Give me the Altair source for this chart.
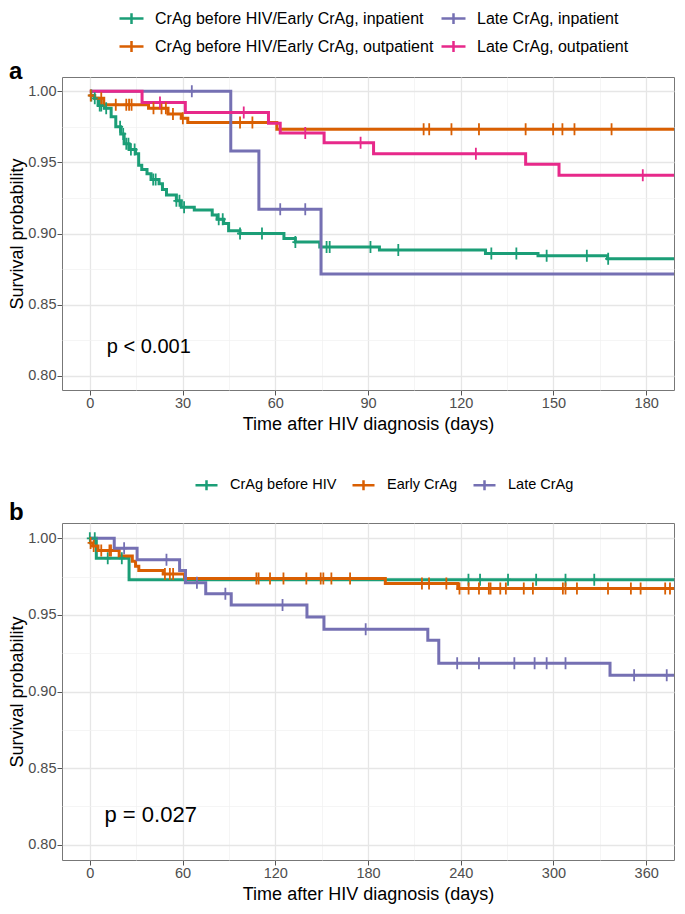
import altair as alt
import pandas as pd

FONT = "Liberation Sans"

# ---------------- Panel a ----------------
A_GROUPS = ["CrAg before HIV/Early CrAg, inpatient",
            "CrAg before HIV/Early CrAg, outpatient",
            "Late CrAg, inpatient",
            "Late CrAg, outpatient"]
A_COLORS = ["#1B9E77", "#D95F02", "#7570B3", "#E7298A"]
A_XMAX = 189

a1_time = [0, 1.5, 2.7, 4.7, 6.9, 8.4, 10.0, 11.1, 12.7, 14.8, 15.8, 16.8, 18.5, 19.8, 22.4, 23.5,
           24.8, 28.0, 29.6, 33.8, 39.6, 41.2, 43.3, 44.9, 48.6, 62.8, 66.5, 74.4, 93.7, 128, 145, 167.5]
a1_surv = [0.997, 0.995, 0.990, 0.988, 0.982, 0.975, 0.970, 0.963, 0.959, 0.956, 0.948, 0.945, 0.942,
           0.938, 0.935, 0.931, 0.927, 0.923, 0.9185, 0.9165, 0.913, 0.910, 0.907, 0.902, 0.900,
           0.8965, 0.894, 0.8905, 0.8884, 0.886, 0.8843, 0.8822]
a1_cens = [0.5, 1.6, 3.2, 3.7, 5.3, 9.8, 10.8, 11.8, 12.5, 13.3, 14.5, 20.5, 21.3, 28.0, 29.0, 30.5,
           41.7, 43.0, 48.6, 55.7, 66.5, 76.6, 77.6, 90.8, 99.8, 129.9, 138.0, 147.8, 160.8, 167.7]

a2_time = [0, 1.6, 4.5, 19.0, 25.3, 29.6, 31.7, 60.5]
a2_surv = [0.997, 0.995, 0.9905, 0.988, 0.984, 0.981, 0.978, 0.9733]
a2_cens = [0.3, 3.7, 8.4, 11.8, 12.7, 13.5, 20.6, 23.2, 24.6, 26.9, 30.1, 48.6, 52.6, 108, 109.8,
           117, 125.9, 141, 149.9, 152.9, 156.8, 168.8]

a3_time = [0, 45.6, 54.7, 74.8]
a3_surv = [1.0, 0.958, 0.917, 0.8715]
a3_cens = [33.0, 61.6, 69.7]

a4_time = [0, 16.9, 30.9, 57.8, 61.6, 75.8, 91.8, 141, 151.8]
a4_surv = [1.0, 0.992, 0.985, 0.9775, 0.9706, 0.9637, 0.956, 0.9486, 0.941]
a4_cens = [22.7, 49.8, 69.7, 87.6, 124.9, 178.9]

a_pval = ["p < 0.001"]
a_pval_x = [5.5]
a_pval_y = [0.816]

# ---------------- Panel b ----------------
B_GROUPS = ["CrAg before HIV", "Early CrAg", "Late CrAg"]
B_COLORS = ["#1B9E77", "#D95F02", "#7570B3"]
B_XMAX = 378

b1_time = [0, 4.2, 25.4]
b1_surv = [1.0, 0.987, 0.973]
b1_cens = [0, 3.2, 11.6, 20.7, 245, 252.5, 270.6, 288.8, 307.8, 326.4]

b2_time = [0, 2.0, 5.3, 19.0, 27.5, 29.6, 31.7, 47.5, 61.3, 191.2, 238.1]
b2_surv = [0.997, 0.995, 0.992, 0.9885, 0.985, 0.9817, 0.979, 0.9767, 0.9737, 0.9705, 0.9672]
b2_cens = [0.5, 2.5, 7.4, 12.7, 13.7, 48.6, 51.8, 53.9, 107.8, 109.2, 116.6, 125.3, 140.1, 149.4,
           151.1, 156.3, 168.4, 214.9, 219.5, 230.7, 239.2, 245.1, 251.8, 258.2, 259.3, 265.6,
           269.2, 280.8, 286.7, 306.1, 307.8, 315.2, 335.3, 350.1, 356.4, 372.3, 375.4]

b3_time = [0, 15.8, 30.6, 58.1, 61.9, 75, 91.5, 140.5, 151.5, 218.7, 225.8, 336.6]
b3_surv = [1.0, 0.9935, 0.986, 0.979, 0.971, 0.9638, 0.9565, 0.9487, 0.9407, 0.9335, 0.9185, 0.9106]
b3_cens = [22.2, 49.6, 69.3, 87.7, 124.7, 178.5, 237.7, 251.8, 274.7, 287.8, 295.6, 307.8, 352.2, 373.3]

b_pval = ["p = 0.027"]
b_pval_x = [9.5]
b_pval_y = [0.815]


def km_rows(group, times, surv, end):
    rows = [{"group": group, "time": t, "surv": s} for t, s in zip(times, surv)]
    rows.append({"group": group, "time": end, "surv": surv[-1]})
    return rows


def cens_rows(group, times, surv, cens):
    out = []
    for c in cens:
        s = surv[0]
        for t, v in zip(times, surv):
            if t <= c:
                s = v
        out.append({"group": group, "time": c, "surv": s})
    return out


a_series = [(A_GROUPS[0], a1_time, a1_surv, a1_cens), (A_GROUPS[1], a2_time, a2_surv, a2_cens),
            (A_GROUPS[2], a3_time, a3_surv, a3_cens), (A_GROUPS[3], a4_time, a4_surv, a4_cens)]
b_series = [(B_GROUPS[0], b1_time, b1_surv, b1_cens), (B_GROUPS[1], b2_time, b2_surv, b2_cens),
            (B_GROUPS[2], b3_time, b3_surv, b3_cens)]

a_lines = pd.DataFrame(sum([km_rows(g, t, s, A_XMAX) for g, t, s, c in a_series], []))
a_cens = pd.DataFrame(sum([cens_rows(g, t, s, c) for g, t, s, c in a_series], []))
b_lines = pd.DataFrame(sum([km_rows(g, t, s, B_XMAX) for g, t, s, c in b_series], []))
b_cens = pd.DataFrame(sum([cens_rows(g, t, s, c) for g, t, s, c in b_series], []))

CROSS = "M0,-1V1M-0.5,0H0.5"
LEG_SYM = "M-1,0H1M0,-0.45V0.45"

Y_VALUES = [0.8, 0.825, 0.85, 0.875, 0.9, 0.925, 0.95, 0.975, 1.0]
Y_MAJOR = "abs(datum.value*20 - round(datum.value*20)) < 0.000001"


def cond(test, a, b):
    return {"condition": {"test": test, "value": a}, "value": b}


def make_axis(values, test, title, fmt=None, title_pad=3, label_pad=2):
    kw = dict(values=values, title=title, labelExpr=f"({test}) ? datum.label : ''",
              gridWidth=cond(test, 1.3, 0.7), gridColor=cond(test, "#E6E6E6", "#F0F0F0"),
              tickOpacity=cond(test, 1, 0), domain=False, labelOverlap=False, labelFlush=False,
              titlePadding=title_pad, labelPadding=label_pad)
    if fmt:
        kw["format"] = fmt
    return alt.Axis(**kw)


def panel(lines_df, cens_df, groups, order, colors, xdom, xvals, xstep, width, height, legend,
          pval, px, py, pfont, letter, letter_y):
    dom = [groups[i] for i in order]
    rng = [colors[i] for i in order]
    color = alt.Color("group:N", scale=alt.Scale(domain=dom, range=rng), legend=legend)
    x = alt.X("time:Q", scale=alt.Scale(domain=xdom, nice=False, zero=False),
              axis=make_axis(xvals, f"datum.value % {xstep} === 0", "Time after HIV diagnosis (days)",
                             title_pad=6, label_pad=1))
    y = alt.Y("surv:Q", scale=alt.Scale(domain=[0.79, 1.01], nice=False, zero=False),
              axis=make_axis(Y_VALUES, Y_MAJOR, "Survival probability", fmt=".2f", title_pad=1,
                             label_pad=1))
    lines = alt.Chart(lines_df).mark_line(interpolate="step-after", strokeWidth=3, clip=True).encode(
        x=x, y=y, color=color, detail="group:N")
    cens = alt.Chart(cens_df).mark_point(shape=CROSS, size=144, filled=False, strokeWidth=1.8,
                                         opacity=1, clip=True).encode(x=x, y=y, color=color)
    ptxt = alt.Chart(pd.DataFrame({"time": px, "surv": py, "lab": pval})).mark_text(
        font=FONT, fontSize=pfont, align="left", baseline="alphabetic", color="black").encode(
        x=x, y=y, text="lab:N")
    lab = alt.Chart(pd.DataFrame({"lab": [letter]})).mark_text(
        font=FONT, fontSize=24, fontWeight="bold", align="left", baseline="alphabetic",
        color="black").encode(x=alt.value(-53), y=alt.value(letter_y), text="lab:N")
    return alt.layer(lines, cens, ptxt, lab).properties(width=width, height=height)


W = 612

leg_a = alt.Legend(orient="none", legendX=56, legendY=-72, direction="horizontal", columns=2,
                   title=None, symbolType=LEG_SYM, symbolSize=576, symbolStrokeWidth=2.5,
                   labelFont=FONT, labelFontSize=16, labelColor="black", labelOffset=10,
                   columnPadding=2, rowPadding=4, padding=0, labelLimit=0)
leg_b = alt.Legend(orient="none", legendX=132, legendY=-50.5, direction="horizontal",
                   title=None, symbolType=LEG_SYM, symbolSize=484, symbolStrokeWidth=2.5,
                   labelFont=FONT, labelFontSize=14.5, labelColor="black", labelOffset=11,
                   columnPadding=10, padding=0, labelLimit=0)

panel_a = panel(a_lines, a_cens, A_GROUPS, [0, 2, 1, 3], A_COLORS, [-9, A_XMAX],
                list(range(0, 181, 15)), 30, W, 313, leg_a, a_pval, a_pval_x, a_pval_y, 20, "a", 2)
panel_b = panel(b_lines, b_cens, B_GROUPS, [0, 1, 2], B_COLORS, [-18, B_XMAX],
                list(range(0, 361, 30)), 60, W, 337, leg_b, b_pval, b_pval_x, b_pval_y, 22, "b", -3)

chart = alt.vconcat(panel_a, panel_b, spacing=133, bounds="flush").resolve_scale(
    color="independent").properties(
    padding={"top": -4, "left": 0, "right": 0, "bottom": 0}, background="white").configure_view(
    stroke="#777777", strokeWidth=1).configure_axis(
    labelFont=FONT, labelFontSize=14.5, labelColor="#4D4D4D",
    titleFont=FONT, titleFontSize=18, titleFontWeight="normal", titleColor="black",
    tickColor="#555555", tickSize=5, tickWidth=1)

chart.save("out.html", embed_options={"renderer": "svg", "actions": False})
